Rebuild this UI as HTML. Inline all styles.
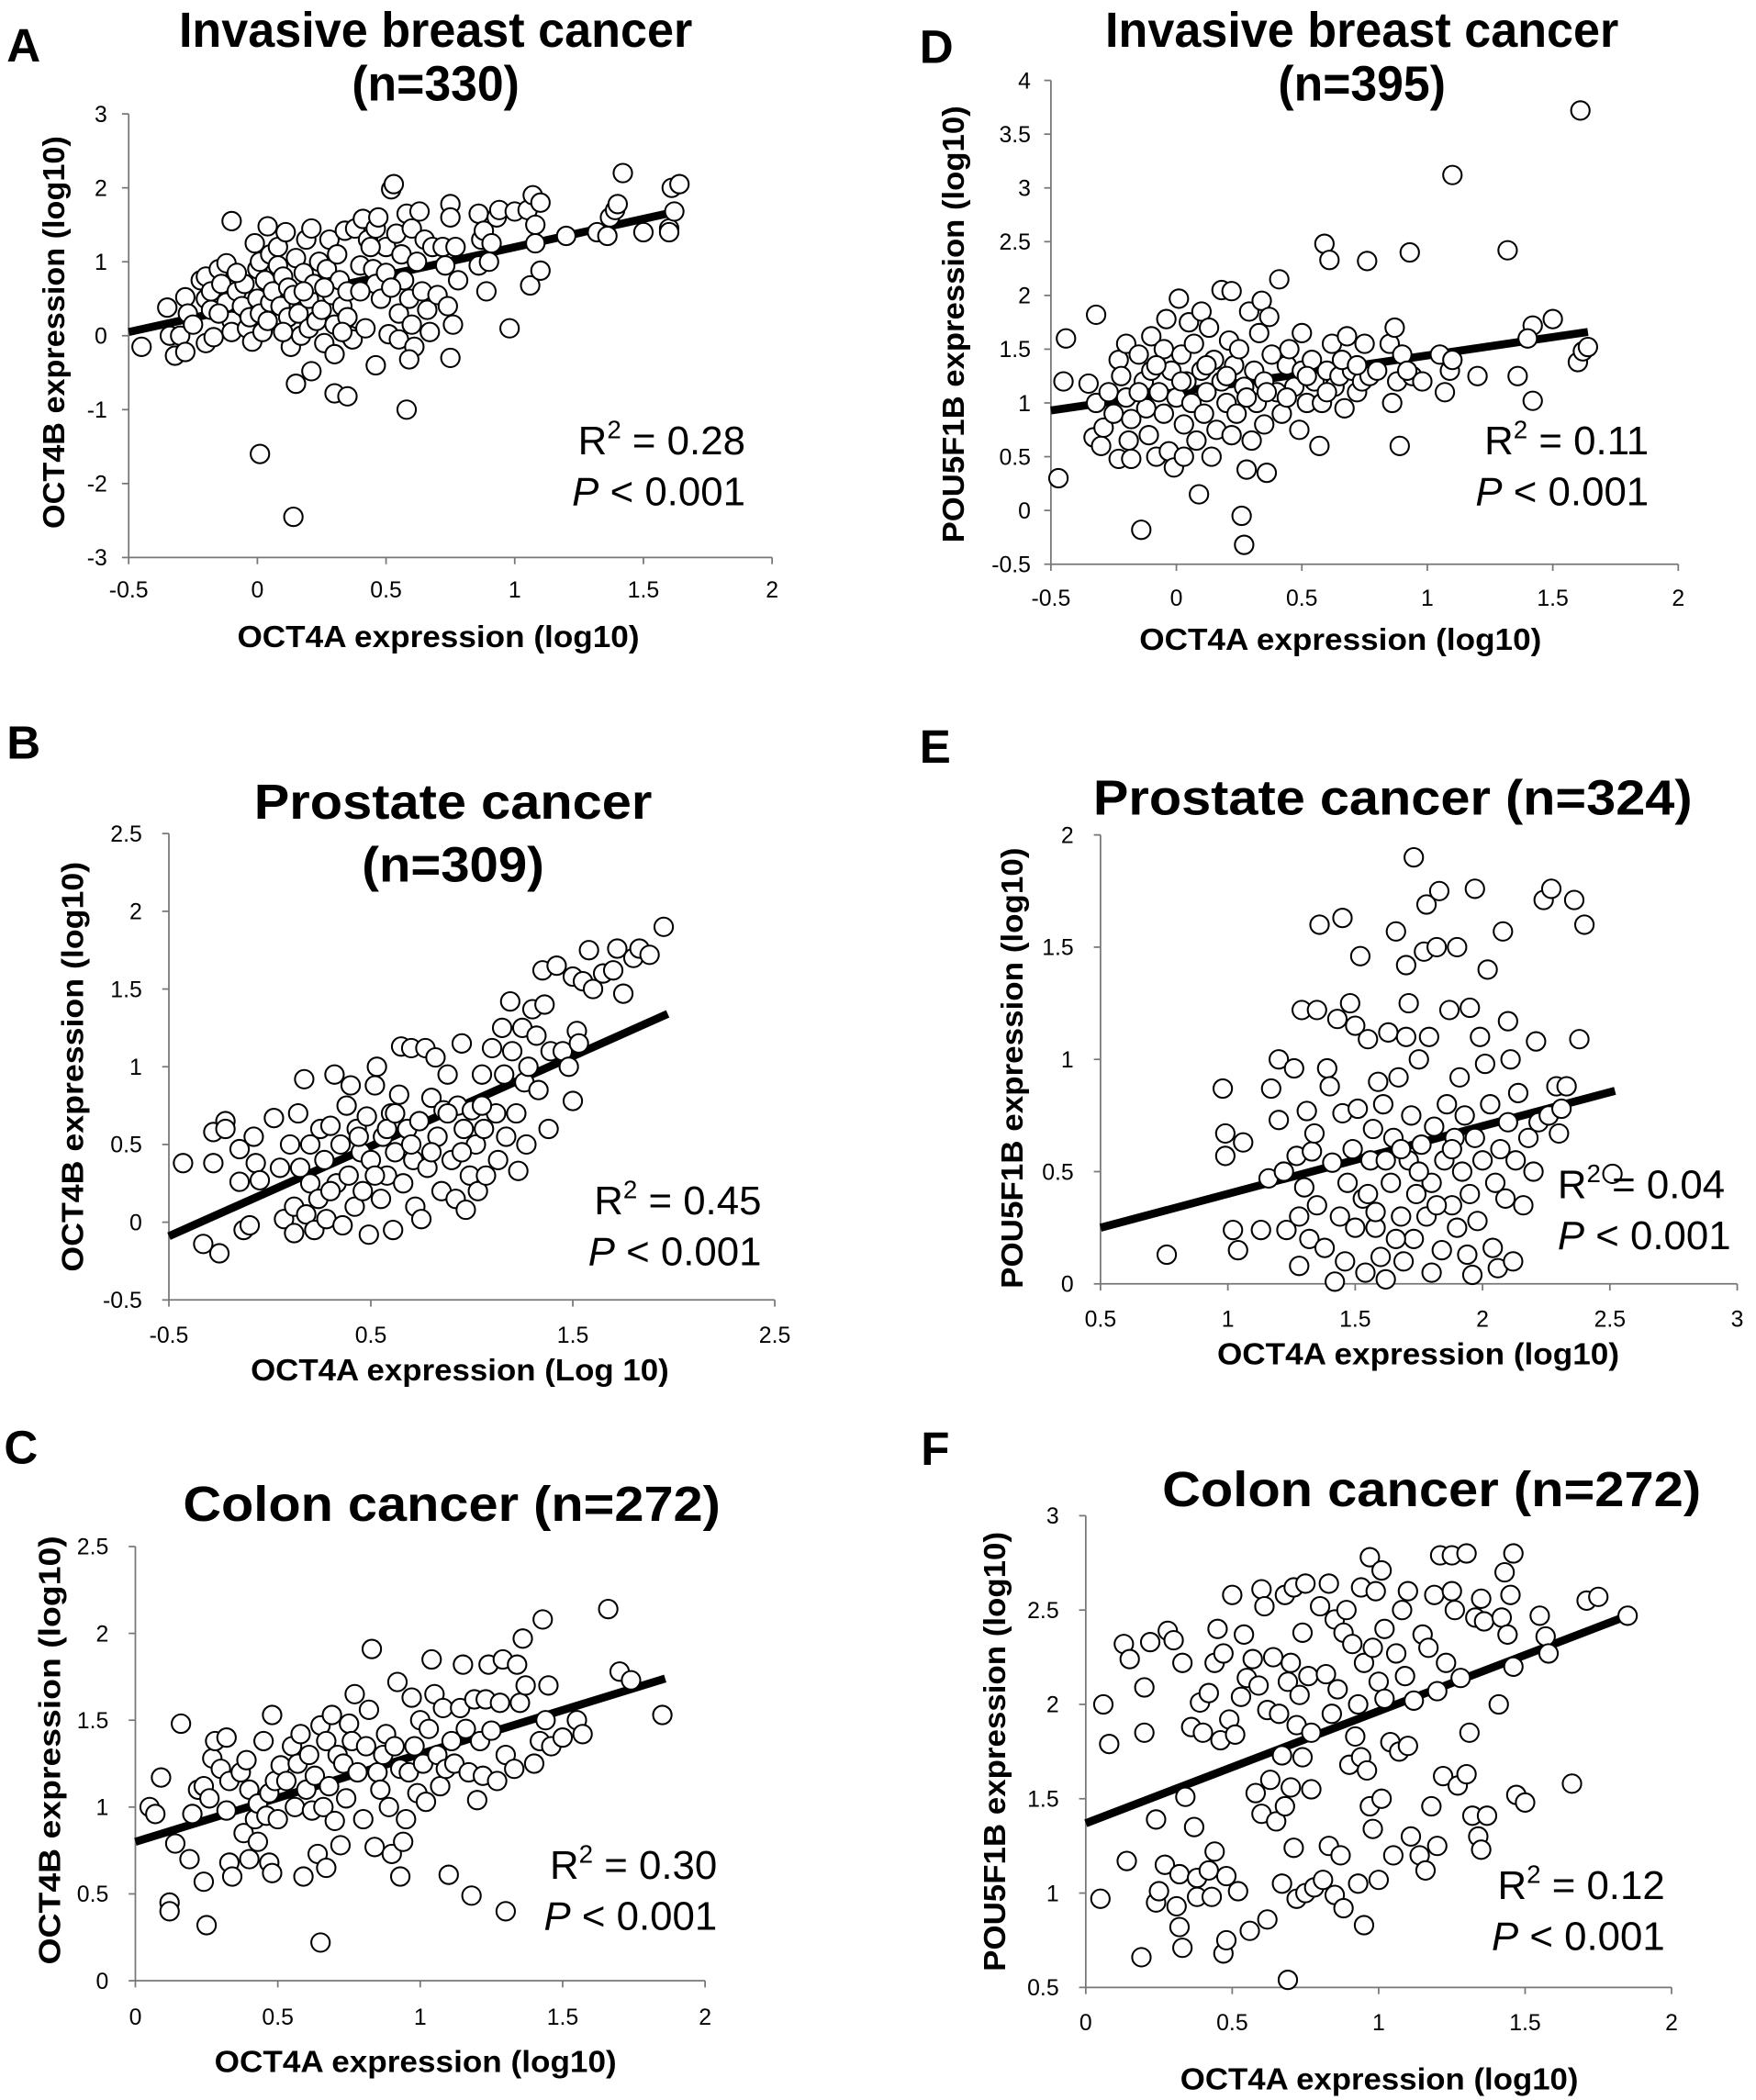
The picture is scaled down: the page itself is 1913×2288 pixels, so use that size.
<!DOCTYPE html>
<html><head><meta charset="utf-8"><style>
html,body{margin:0;padding:0;background:#fff;}
svg{display:block;}
text{font-family:"Liberation Sans",sans-serif;fill:#000;}
.ttl{font-family:"Liberation Sans Narrow","Liberation Sans",sans-serif;font-weight:bold;font-size:37px;}
.lbl{font-weight:bold;font-size:23px;}
.tick{font-size:17px;}
.stat{font-size:30px;}
.plab{font-weight:bold;font-size:35px;}
</style></head><body>
<svg id="fig" xmlns="http://www.w3.org/2000/svg" width="1913" height="2288" viewBox="0 0 1310 1567" preserveAspectRatio="none"></svg>
<script>
// ---- data ----
const panelAPoints=[[-0.45,-0.15],[-0.35,0.38],[-0.34,0],[-0.32,-0.27],[-0.3,0],[-0.28,-0.22],[-0.28,0.52],[-0.27,0.3],[-0.25,0.15],[-0.22,0.75],[-0.2,0.8],[-0.2,0.5],[-0.2,-0.1],[-0.18,0.6],[-0.18,0.35],[-0.17,-0.02],[-0.15,0.9],[-0.14,0.7],[-0.12,0.98],[-0.12,0.45],[-0.1,1.55],[-0.1,0.2],[-0.1,0.05],[-0.08,0.6],[-0.06,0.4],[-0.05,0.7],[-0.04,0.1],[-0.03,0.25],[-0.02,-0.08],[-0.01,1.25],[0,0.5],[0,0.9],[0.01,1.0],[0.01,0.3],[0.02,0.05],[0.03,0.75],[0.04,1.48],[0.05,1.1],[0.05,0.45],[0.06,0.6],[0.07,0.2],[0.08,1.2],[0.08,0.95],[0.09,0.4],[0.1,0.8],[0.11,1.4],[0.12,0.65],[0.12,0.25],[0.13,-0.15],[0.14,0.55],[0.15,1.05],[0.16,0.3],[0.17,0],[0.18,0.85],[0.19,1.3],[0.2,0.5],[0.2,0.1],[0.21,1.45],[0.22,0.7],[0.23,0.2],[0.24,1.0],[0.25,0.35],[0.26,-0.1],[0.27,0.9],[0.28,1.3],[0.29,0.55],[0.3,0.15],[0.3,-0.25],[0.31,1.1],[0.32,0.75],[0.33,0.4],[0.34,1.42],[0.35,0.6],[0.35,0.25],[0.36,0],[0.37,-0.05],[0.38,1.45],[0.4,0.95],[0.41,1.58],[0.42,0.1],[0.43,1.3],[0.45,0.9],[0.46,1.45],[0.46,0.7],[0.47,1.6],[0.48,0.5],[0.5,1.2],[0.5,0.85],[0.51,0.02],[0.52,1.98],[0.53,2.05],[0.54,1.38],[0.55,0.3],[0.55,-0.05],[0.56,1.1],[0.57,0.75],[0.58,1.65],[0.59,0.5],[0.6,1.45],[0.6,0.15],[0.61,-0.15],[0.62,1.0],[0.63,1.68],[0.64,0.6],[0.65,1.3],[0.66,0.35],[0.67,0.05],[0.68,1.2],[0.7,0.55],[0.72,1.2],[0.73,0.95],[0.74,0.4],[0.75,1.78],[0.75,1.6],[0.76,0.15],[0.77,1.2],[0.78,0.75],[0.86,0.95],[0.86,1.65],[0.87,1.3],[0.88,1.42],[0.89,0.6],[0.9,1.0],[0.91,1.25],[0.93,1.6],[0.94,1.7],[0.98,0.1],[1.0,1.68],[1.05,1.7],[1.06,0.68],[1.07,1.9],[1.08,1.25],[1.08,1.5],[1.1,0.88],[1.1,1.8],[1.2,1.35],[1.32,1.4],[1.36,1.35],[1.37,1.6],[1.39,1.7],[1.4,1.78],[1.42,2.2],[1.5,1.4],[1.6,1.45],[1.61,2.0],[1.62,1.68],[1.64,2.05],[1.6,1.4],[0.15,-0.65],[0.21,-0.48],[0.3,-0.78],[0.35,-0.82],[0.46,-0.4],[0.58,-1.0],[0.01,-1.6],[0.14,-2.45],[0.75,-0.3],[0.59,-0.32],[-0.15,0.3],[-0.08,0.85],[0.04,0.2],[0.1,0.05],[0.18,0.6],[0.26,0.65],[0.33,0.05],[0.4,0.6],[0.44,1.2],[0.52,0.65]];
const panelALine=[[-0.5,0.05],[1.63,1.68]];
const panelAXTicks=[-0.5,0,0.5,1,1.5,2];
const panelAYTicks=[-3,-2,-1,0,1,2,3];

const panelDPoints=[[-0.47,0.3],[-0.45,1.2],[-0.44,1.6],[-0.35,1.18],[-0.33,0.68],[-0.32,1.82],[-0.32,1.0],[-0.3,0.6],[-0.29,0.77],[-0.27,1.1],[-0.25,0.9],[-0.23,1.4],[-0.23,0.48],[-0.22,1.25],[-0.2,1.55],[-0.2,1.05],[-0.19,0.65],[-0.18,0.85],[-0.18,0.48],[-0.15,1.45],[-0.14,-0.18],[-0.13,1.2],[-0.12,0.95],[-0.11,0.7],[-0.1,1.62],[-0.1,1.3],[-0.08,0.5],[-0.07,1.1],[-0.05,1.5],[-0.05,0.9],[-0.04,1.78],[-0.03,0.55],[-0.02,1.3],[-0.01,0.4],[0,1.05],[0.01,1.97],[0.02,1.45],[0.03,0.8],[0.03,0.5],[0.04,1.2],[0.05,1.75],[0.06,1.0],[0.07,1.55],[0.08,0.65],[0.09,0.15],[0.1,1.3],[0.1,1.85],[0.11,0.9],[0.12,1.1],[0.13,1.7],[0.14,0.5],[0.15,1.4],[0.16,0.75],[0.18,2.05],[0.18,1.2],[0.2,1.0],[0.21,1.58],[0.22,2.04],[0.22,0.7],[0.23,1.35],[0.24,0.9],[0.25,1.5],[0.26,-0.05],[0.27,-0.32],[0.27,1.15],[0.28,0.38],[0.29,1.85],[0.3,0.65],[0.31,1.3],[0.32,1.0],[0.33,1.65],[0.34,1.95],[0.35,1.2],[0.35,0.8],[0.36,0.35],[0.37,1.8],[0.38,1.45],[0.4,1.1],[0.41,2.15],[0.42,0.9],[0.44,1.35],[0.45,1.5],[0.47,1.15],[0.49,0.75],[0.5,1.3],[0.5,1.65],[0.52,1.0],[0.54,1.4],[0.55,1.2],[0.57,0.6],[0.58,1.0],[0.59,2.48],[0.6,1.3],[0.61,2.33],[0.62,1.55],[0.63,1.15],[0.65,1.25],[0.67,0.95],[0.68,1.62],[0.7,1.3],[0.72,1.1],[0.74,1.2],[0.75,1.55],[0.76,2.32],[0.77,1.25],[0.85,1.55],[0.86,1.0],[0.87,1.7],[0.88,1.2],[0.89,0.6],[0.9,1.45],[0.93,2.4],[0.94,1.25],[0.98,1.2],[1.05,1.45],[1.07,1.1],[1.09,1.3],[1.1,3.12],[1.1,1.4],[1.2,1.25],[1.32,2.42],[1.36,1.25],[1.42,1.02],[1.42,1.72],[1.4,1.6],[1.5,1.78],[1.6,1.38],[1.61,3.72],[1.62,1.48],[1.64,1.52],[-0.15,1.1],[-0.08,1.35],[0.02,1.2],[0.12,1.35],[0.2,1.25],[0.28,1.05],[0.36,1.1],[0.44,1.05],[0.52,1.25],[0.6,1.1],[0.66,1.4],[0.72,1.35],[0.8,1.3],[0.92,1.3]];
const panelDLine=[[-0.5,0.93],[1.64,1.66]];
const panelDXTicks=[-0.5,0,0.5,1,1.5,2];
const panelDYTicks=[-0.5,0,0.5,1,1.5,2,2.5,3,3.5,4];

const panelBPoints=[[-0.43,0.38],[-0.33,-0.14],[-0.28,0.58],[-0.28,0.38],[-0.25,-0.2],[-0.22,0.65],[-0.22,0.6],[-0.15,0.47],[-0.15,0.26],[-0.13,-0.05],[-0.1,-0.02],[-0.08,0.55],[-0.07,0.38],[-0.05,0.27],[0.02,0.67],[0.05,0.35],[0.07,0.02],[0.1,0.5],[0.12,-0.07],[0.12,0.1],[0.14,0.7],[0.15,0.35],[0.17,0.92],[0.18,0.05],[0.2,0.5],[0.2,0.25],[0.22,-0.05],[0.24,0.15],[0.25,0.6],[0.27,0.4],[0.28,0.02],[0.3,0.62],[0.32,0.95],[0.33,0.25],[0.35,0.5],[0.36,-0.02],[0.38,0.75],[0.39,0.3],[0.4,0.88],[0.42,0.1],[0.43,0.6],[0.45,0.45],[0.46,0.2],[0.48,0.68],[0.49,-0.08],[0.5,0.4],[0.52,0.88],[0.53,1.0],[0.55,0.15],[0.56,0.55],[0.58,0.3],[0.6,0.7],[0.61,-0.05],[0.62,0.45],[0.64,0.82],[0.65,1.13],[0.66,0.25],[0.68,0.6],[0.7,1.12],[0.71,0.4],[0.72,0.1],[0.74,0.65],[0.75,0.02],[0.77,1.12],[0.78,0.35],[0.8,0.8],[0.82,1.06],[0.83,0.55],[0.85,0.2],[0.86,0.72],[0.88,0.95],[0.9,0.4],[0.92,0.15],[0.93,0.75],[0.95,1.15],[0.96,0.6],[0.97,0.08],[0.99,0.3],[1.0,0.72],[1.02,0.5],[1.03,0.2],[1.05,0.95],[1.06,0.6],[1.07,0.3],[1.1,1.12],[1.12,0.7],[1.13,0.4],[1.15,1.25],[1.16,0.95],[1.17,0.55],[1.19,1.42],[1.2,1.1],[1.22,0.7],[1.23,0.33],[1.25,1.25],[1.26,0.9],[1.27,0.5],[1.28,1.0],[1.3,1.37],[1.32,1.2],[1.33,0.85],[1.35,1.62],[1.36,1.4],[1.38,0.6],[1.39,1.1],[1.42,1.65],[1.45,1.1],[1.48,1.0],[1.5,1.58],[1.5,0.78],[1.52,1.23],[1.53,1.15],[1.55,1.55],[1.58,1.75],[1.6,1.5],[1.65,1.6],[1.7,1.62],[1.72,1.76],[1.75,1.47],[1.8,1.7],[1.83,1.76],[1.88,1.72],[1.95,1.9],[0.3,0.2],[0.44,0.55],[0.58,0.6],[0.62,0.7],[0.7,0.5],[0.8,0.45],[0.88,0.7],[0.95,0.45],[1.05,0.75],[0.52,0.3]];
const panelBLine=[[-0.5,-0.09],[1.97,1.34]];
const panelBXTicks=[-0.5,0.5,1.5,2.5];
const panelBYTicks=[-0.5,0,0.5,1,1.5,2,2.5];

const panelEPoints=[[0.76,0.13],[0.98,0.87],[0.99,0.67],[0.99,0.57],[1.02,0.24],[1.04,0.15],[1.06,0.63],[1.13,0.24],[1.16,0.47],[1.17,0.87],[1.2,0.73],[1.2,1.0],[1.22,0.5],[1.23,0.24],[1.26,0.96],[1.27,0.57],[1.28,0.3],[1.28,0.08],[1.29,1.22],[1.3,0.43],[1.31,0.77],[1.32,0.2],[1.33,0.59],[1.34,0.67],[1.35,0.35],[1.35,1.22],[1.36,1.6],[1.38,0.16],[1.39,0.96],[1.4,0.88],[1.41,0.54],[1.42,0.01],[1.43,1.18],[1.44,0.3],[1.45,1.63],[1.45,0.76],[1.46,0.1],[1.47,0.45],[1.48,1.25],[1.49,0.6],[1.5,0.25],[1.5,1.15],[1.51,0.78],[1.52,1.46],[1.53,0.38],[1.54,0.05],[1.55,1.09],[1.56,0.55],[1.57,0.69],[1.58,0.25],[1.59,0.9],[1.6,0.12],[1.61,0.8],[1.62,0.02],[1.63,1.12],[1.64,0.45],[1.65,0.65],[1.66,1.57],[1.67,0.92],[1.68,0.3],[1.69,0.1],[1.7,1.42],[1.7,1.1],[1.71,0.55],[1.71,1.25],[1.72,0.75],[1.73,1.9],[1.73,0.2],[1.74,0.4],[1.75,1.0],[1.76,0.62],[1.77,1.48],[1.78,1.69],[1.78,0.3],[1.79,1.1],[1.8,0.45],[1.8,0.05],[1.81,0.7],[1.82,1.5],[1.83,1.75],[1.84,0.15],[1.85,0.55],[1.86,0.8],[1.87,1.22],[1.88,0.35],[1.89,0.65],[1.9,0.25],[1.9,1.5],[1.91,0.92],[1.92,0.5],[1.93,0.75],[1.94,0.13],[1.95,0.4],[1.95,1.23],[1.96,0.04],[1.97,1.76],[1.97,0.65],[1.98,0.28],[1.99,1.1],[2.0,0.55],[2.01,0.98],[2.02,1.4],[2.03,0.8],[2.04,0.16],[2.05,0.45],[2.06,0.07],[2.07,0.6],[2.08,1.57],[2.09,0.38],[2.1,1.17],[2.1,0.72],[2.11,1.0],[2.12,0.1],[2.13,0.55],[2.14,0.85],[2.16,0.35],[2.18,0.65],[2.2,0.5],[2.21,1.08],[2.22,0.72],[2.24,1.71],[2.26,0.75],[2.27,1.76],[2.29,0.88],[2.3,0.67],[2.31,0.78],[2.33,0.88],[2.36,1.71],[2.38,1.09],[2.4,1.6],[2.51,0.49],[1.55,0.4],[1.62,0.55],[1.68,0.6],[1.75,0.5],[1.82,0.35],[1.88,0.6],[1.58,0.32],[1.66,0.2]];
const panelELine=[[0.5,0.25],[2.52,0.86]];
const panelEXTicks=[0.5,1,1.5,2,2.5,3];
const panelEYTicks=[0,0.5,1,1.5,2];

const panelCPoints=[[0.05,1.0],[0.07,0.96],[0.09,1.17],[0.12,0.45],[0.12,0.4],[0.14,0.79],[0.16,1.48],[0.19,0.7],[0.2,0.96],[0.22,1.1],[0.24,0.57],[0.24,1.12],[0.25,0.32],[0.26,1.05],[0.27,1.28],[0.28,1.38],[0.3,1.22],[0.32,1.4],[0.32,0.98],[0.33,1.15],[0.33,0.68],[0.34,0.6],[0.37,1.2],[0.38,0.85],[0.39,1.27],[0.4,1.1],[0.4,0.7],[0.42,0.93],[0.43,0.8],[0.43,1.02],[0.45,1.38],[0.46,0.95],[0.47,1.08],[0.47,0.68],[0.48,1.53],[0.48,0.62],[0.49,1.15],[0.5,0.93],[0.51,1.24],[0.53,1.15],[0.55,1.35],[0.56,1.0],[0.57,1.25],[0.58,1.42],[0.59,0.6],[0.6,1.1],[0.61,1.3],[0.62,0.98],[0.63,1.18],[0.64,0.73],[0.65,1.47],[0.65,0.22],[0.66,1.0],[0.67,1.38],[0.67,0.65],[0.68,1.12],[0.69,1.53],[0.7,0.92],[0.71,1.3],[0.72,0.78],[0.73,1.25],[0.74,1.05],[0.75,1.48],[0.76,1.38],[0.77,1.65],[0.78,1.2],[0.8,0.93],[0.81,1.35],[0.82,1.56],[0.83,1.91],[0.84,0.77],[0.85,1.2],[0.86,1.1],[0.87,1.3],[0.88,1.42],[0.89,1.0],[0.9,0.73],[0.91,1.35],[0.92,1.72],[0.93,0.6],[0.93,1.22],[0.94,0.8],[0.95,0.93],[0.96,1.2],[0.97,1.63],[0.98,1.35],[0.99,1.08],[1.0,1.5],[1.01,1.25],[1.02,1.03],[1.03,1.45],[1.04,1.85],[1.05,1.65],[1.06,1.3],[1.07,1.12],[1.08,1.57],[1.09,1.22],[1.1,0.61],[1.11,1.38],[1.12,1.25],[1.14,1.57],[1.15,1.82],[1.16,1.45],[1.17,1.2],[1.18,0.49],[1.19,1.62],[1.2,1.04],[1.21,1.38],[1.22,1.18],[1.23,1.62],[1.24,1.82],[1.25,1.44],[1.27,1.15],[1.28,1.6],[1.29,1.85],[1.3,1.3],[1.3,0.4],[1.33,1.22],[1.34,1.82],[1.35,1.6],[1.36,1.97],[1.37,1.7],[1.4,1.25],[1.42,1.38],[1.43,2.08],[1.44,1.5],[1.45,1.7],[1.46,1.35],[1.5,1.4],[1.55,1.5],[1.57,1.42],[1.66,2.14],[1.7,1.78],[1.74,1.73],[1.85,1.53]];
const panelCLine=[[0,0.8],[1.86,1.74]];
const panelCXTicks=[0,0.5,1,1.5,2];
const panelCYTicks=[0,0.5,1,1.5,2,2.5];

const panelFPoints=[[0.05,0.97],[0.06,2.0],[0.08,1.79],[0.13,2.32],[0.14,1.17],[0.15,2.24],[0.19,0.66],[0.2,2.09],[0.2,1.85],[0.22,2.33],[0.24,1.39],[0.24,0.95],[0.25,1.01],[0.27,1.15],[0.28,2.39],[0.3,2.34],[0.31,0.93],[0.32,1.1],[0.32,0.82],[0.33,0.71],[0.33,2.22],[0.34,1.51],[0.36,1.88],[0.37,1.35],[0.38,1.08],[0.38,0.98],[0.39,2.01],[0.4,1.85],[0.42,2.06],[0.42,1.12],[0.43,0.98],[0.44,2.22],[0.44,1.22],[0.45,2.4],[0.46,1.81],[0.47,2.27],[0.47,0.68],[0.48,1.09],[0.48,0.75],[0.49,1.92],[0.5,2.58],[0.51,1.84],[0.52,1.01],[0.53,2.04],[0.54,2.37],[0.55,2.14],[0.56,0.8],[0.57,2.24],[0.58,1.53],[0.59,2.1],[0.6,2.61],[0.6,1.42],[0.61,2.52],[0.62,1.97],[0.62,0.86],[0.63,1.6],[0.64,2.25],[0.65,1.38],[0.66,1.95],[0.67,1.05],[0.67,1.73],[0.68,2.58],[0.68,1.46],[0.69,2.12],[0.69,0.54],[0.7,2.22],[0.7,1.56],[0.71,2.62],[0.71,1.24],[0.72,1.89],[0.72,0.97],[0.73,2.05],[0.74,2.38],[0.74,1.72],[0.75,2.64],[0.75,1.0],[0.76,2.15],[0.77,1.55],[0.77,1.85],[0.78,1.03],[0.8,2.52],[0.81,1.07],[0.82,2.16],[0.83,2.64],[0.83,1.25],[0.84,1.95],[0.85,2.45],[0.85,0.99],[0.86,2.08],[0.87,1.2],[0.88,2.38],[0.88,0.92],[0.89,2.5],[0.9,1.68],[0.91,2.32],[0.92,1.83],[0.93,2.0],[0.93,1.05],[0.94,2.62],[0.94,1.72],[0.95,2.22],[0.95,0.83],[0.96,1.65],[0.97,2.78],[0.97,1.46],[0.98,2.3],[0.98,1.34],[0.99,2.6],[1.0,2.12],[1.0,1.07],[1.01,2.71],[1.01,1.5],[1.02,2.4],[1.02,2.03],[1.04,1.8],[1.05,1.2],[1.06,2.27],[1.07,1.75],[1.08,2.5],[1.09,2.15],[1.1,1.78],[1.1,2.6],[1.11,1.3],[1.12,2.02],[1.14,1.2],[1.15,2.37],[1.16,1.12],[1.17,2.3],[1.18,1.46],[1.19,2.58],[1.2,2.07],[1.2,1.25],[1.21,2.79],[1.22,1.62],[1.23,2.22],[1.25,2.79],[1.25,2.6],[1.26,2.5],[1.27,1.57],[1.28,2.14],[1.3,2.8],[1.3,1.63],[1.31,1.85],[1.32,1.41],[1.33,2.46],[1.34,1.3],[1.35,1.23],[1.35,2.56],[1.36,2.44],[1.37,1.41],[1.41,2.0],[1.42,2.46],[1.43,2.7],[1.44,2.37],[1.45,2.58],[1.46,2.2],[1.46,2.8],[1.47,1.52],[1.5,1.48],[1.55,2.47],[1.57,2.36],[1.58,2.27],[1.66,1.58],[1.71,2.55],[1.75,2.57],[1.85,2.47]];
const panelFLine=[[0,1.37],[1.85,2.47]];
const panelFXTicks=[0,0.5,1,1.5,2];
const panelFYTicks=[0.5,1,1.5,2,2.5,3];

// ---- layout (display units) ----
const svg=document.getElementById('fig');
const NS='http://www.w3.org/2000/svg';
function mk(tag,attrs,parent){const e=document.createElementNS(NS,tag);for(const k in attrs)e.setAttribute(k,attrs[k]);(parent||svg).appendChild(e);return e;}

const panels=[
 {id:'a',letter:'A',lx:5,ly:46,pts:panelAPoints,line:panelALine,xt:panelAXTicks,yt:panelAYTicks,x0:96,x1:576,xmin:-0.5,xmax:2,y0:416,y1:85,ymin:-3,ymax:3,
  title:[['Invasive breast cancer',325,35,383],['(n=330)',325,75,125]],r2:'0.28',sx:556,sy:339,anchor:'end',
  xl:['OCT4A  expression (log10)',327,483,300],yl:['OCT4B expression (log10)',40,248,293],tfs:18,txb:446,tyr:80},
 {id:'d',letter:'D',lx:686,ly:47,pts:panelDPoints,line:panelDLine,xt:panelDXTicks,yt:panelDYTicks,x0:784,x1:1252,xmin:-0.5,xmax:2,y0:421,y1:60,ymin:-0.5,ymax:4,
  title:[['Invasive breast cancer',1016,35,383],['(n=395)',1016,75,125]],r2:'0.11',sx:1230,sy:339,anchor:'end',
  xl:['OCT4A  expression (log10)',1000,485,300],yl:['POU5F1B  expression (log10)',711,242,326],tfs:18,txb:452,tyr:769},
 {id:'b',letter:'B',lx:5,ly:566,pts:panelBPoints,line:panelBLine,xt:panelBXTicks,yt:panelBYTicks,x0:126,x1:578,xmin:-0.5,xmax:2.5,y0:970,y1:622,ymin:-0.5,ymax:2.5,
  title:[['Prostate cancer',338,611,297],['(n=309)',338,658,136]],r2:'0.45',sx:568,sy:906,anchor:'end',
  xl:['OCT4A  expression (Log 10)',343,1030,312],yl:['OCT4B expression  (log10)',54,796,306],tfs:19,txb:1002,tyr:106},
 {id:'e',letter:'E',lx:686,ly:569,pts:panelEPoints,line:panelELine,xt:panelEXTicks,yt:panelEYTicks,x0:821,x1:1296,xmin:0.5,xmax:3,y0:958,y1:623,ymin:0,ymax:2,
  title:[['Prostate cancer (n=324)',1039,608,447]],r2:'0.04',sx:1162,sy:894,anchor:'start',
  xl:['OCT4A  expression (log10)',1058,1018,300],yl:['POU5F1B  expression (log10)',755,797,329],tfs:17,txb:990,tyr:801},
 {id:'c',letter:'C',lx:3,ly:1092,pts:panelCPoints,line:panelCLine,xt:panelCXTicks,yt:panelCYTicks,x0:101,x1:526,xmin:0,xmax:2,y0:1478,y1:1154,ymin:0,ymax:2.5,
  title:[['Colon cancer (n=272)',337,1135,401]],r2:'0.30',sx:535,sy:1402,anchor:'end',
  xl:['OCT4A  expression (log10)',310,1546,300],yl:['OCT4B  expression (log10)',37,1306,320],tfs:17,txb:1511,tyr:81},
 {id:'f',letter:'F',lx:687,ly:1093,pts:panelFPoints,line:panelFLine,xt:panelFXTicks,yt:panelFYTicks,x0:810,x1:1247,xmin:0,xmax:2,y0:1483,y1:1131,ymin:0.5,ymax:3,
  title:[['Colon cancer (n=272)',1068,1124,402]],r2:'0.12',sx:1242,sy:1417,anchor:'end',
  xl:['OCT4A  expression (log10)',1029,1559,297],yl:['POU5F1B  expression (log10)',742,1307,328],tfs:17,txb:1515,tyr:790}
];

panels.forEach(p=>{
  const g=mk('g',{});
  
  
  const X=v=>p.x0+(v-p.xmin)/(p.xmax-p.xmin)*(p.x1-p.x0);
  const Y=v=>p.y0-(v-p.ymin)/(p.ymax-p.ymin)*(p.y0-p.y1);
  const pl=mk('text',{x:p.lx,y:p.ly,class:'plab'},g);pl.textContent=p.letter;
  
  
  p.title.forEach((t,i)=>{const e=mk('text',{x:t[1],y:t[2],class:'ttl','text-anchor':'middle',textLength:t[3],lengthAdjust:'spacingAndGlyphs'},g);e.textContent=t[0];
    
    });
  const ax=mk('path',{d:`M${p.x0},${p.y1}V${p.y0}H${p.x1}`,stroke:'#777',fill:'none','stroke-width':1.2},g);
  
  
  p.yt.forEach(v=>{const y=Y(v);mk('line',{x1:p.x0-5,x2:p.x0,y1:y,y2:y,stroke:'#777','stroke-width':1.2},g);
    const t=mk('text',{x:p.tyr,y:y+6,class:'tick','text-anchor':'end','font-size':p.tfs},g);t.textContent=String(v);
    
    });
  p.xt.forEach(v=>{const x=X(v);mk('line',{x1:x,x2:x,y1:p.y0,y2:p.y0+5,stroke:'#777','stroke-width':1.2},g);
    const t=mk('text',{x:x,y:p.txb,class:'tick','text-anchor':'middle','font-size':p.tfs},g);t.textContent=String(v);
    
    });
  const rl=mk('line',{x1:X(p.line[0][0]),y1:Y(p.line[0][1]),x2:X(p.line[1][0]),y2:Y(p.line[1][1]),stroke:'#000','stroke-width':6},g);
  
  
  p.pts.forEach(d=>{const c=mk('circle',{cx:X(d[0]),cy:Y(d[1]),r:6.9,fill:'#fff',stroke:'#000','stroke-width':1.4},g);
    
    });
  const s1=mk('text',{x:p.sx,y:p.sy,class:'stat','text-anchor':p.anchor},g);
  
  
  s1.appendChild(document.createTextNode('R'));
  const sup=mk('tspan',{dy:-12,'font-size':19},s1);sup.textContent='2';
  const rest=mk('tspan',{dy:12},s1);rest.textContent=' = '+p.r2;
  const s2=mk('text',{x:p.sx,y:p.sy+38,class:'stat','text-anchor':p.anchor},g);
  
  
  const it=mk('tspan',{'font-style':'italic'},s2);it.textContent='P';
  s2.appendChild(document.createTextNode(' < 0.001'));
  const xl=mk('text',{x:p.xl[1],y:p.xl[2],class:'lbl','text-anchor':'middle',textLength:p.xl[3],lengthAdjust:'spacingAndGlyphs'},g);xl.textContent=p.xl[0];
  
  
  const yl=mk('text',{x:0,y:0,class:'lbl','text-anchor':'middle',textLength:p.yl[3],lengthAdjust:'spacingAndGlyphs',transform:`translate(${p.yl[1]+8},${p.yl[2]}) rotate(-90)`},g);yl.textContent=p.yl[0];
  
  
});
</script>
</body></html>
